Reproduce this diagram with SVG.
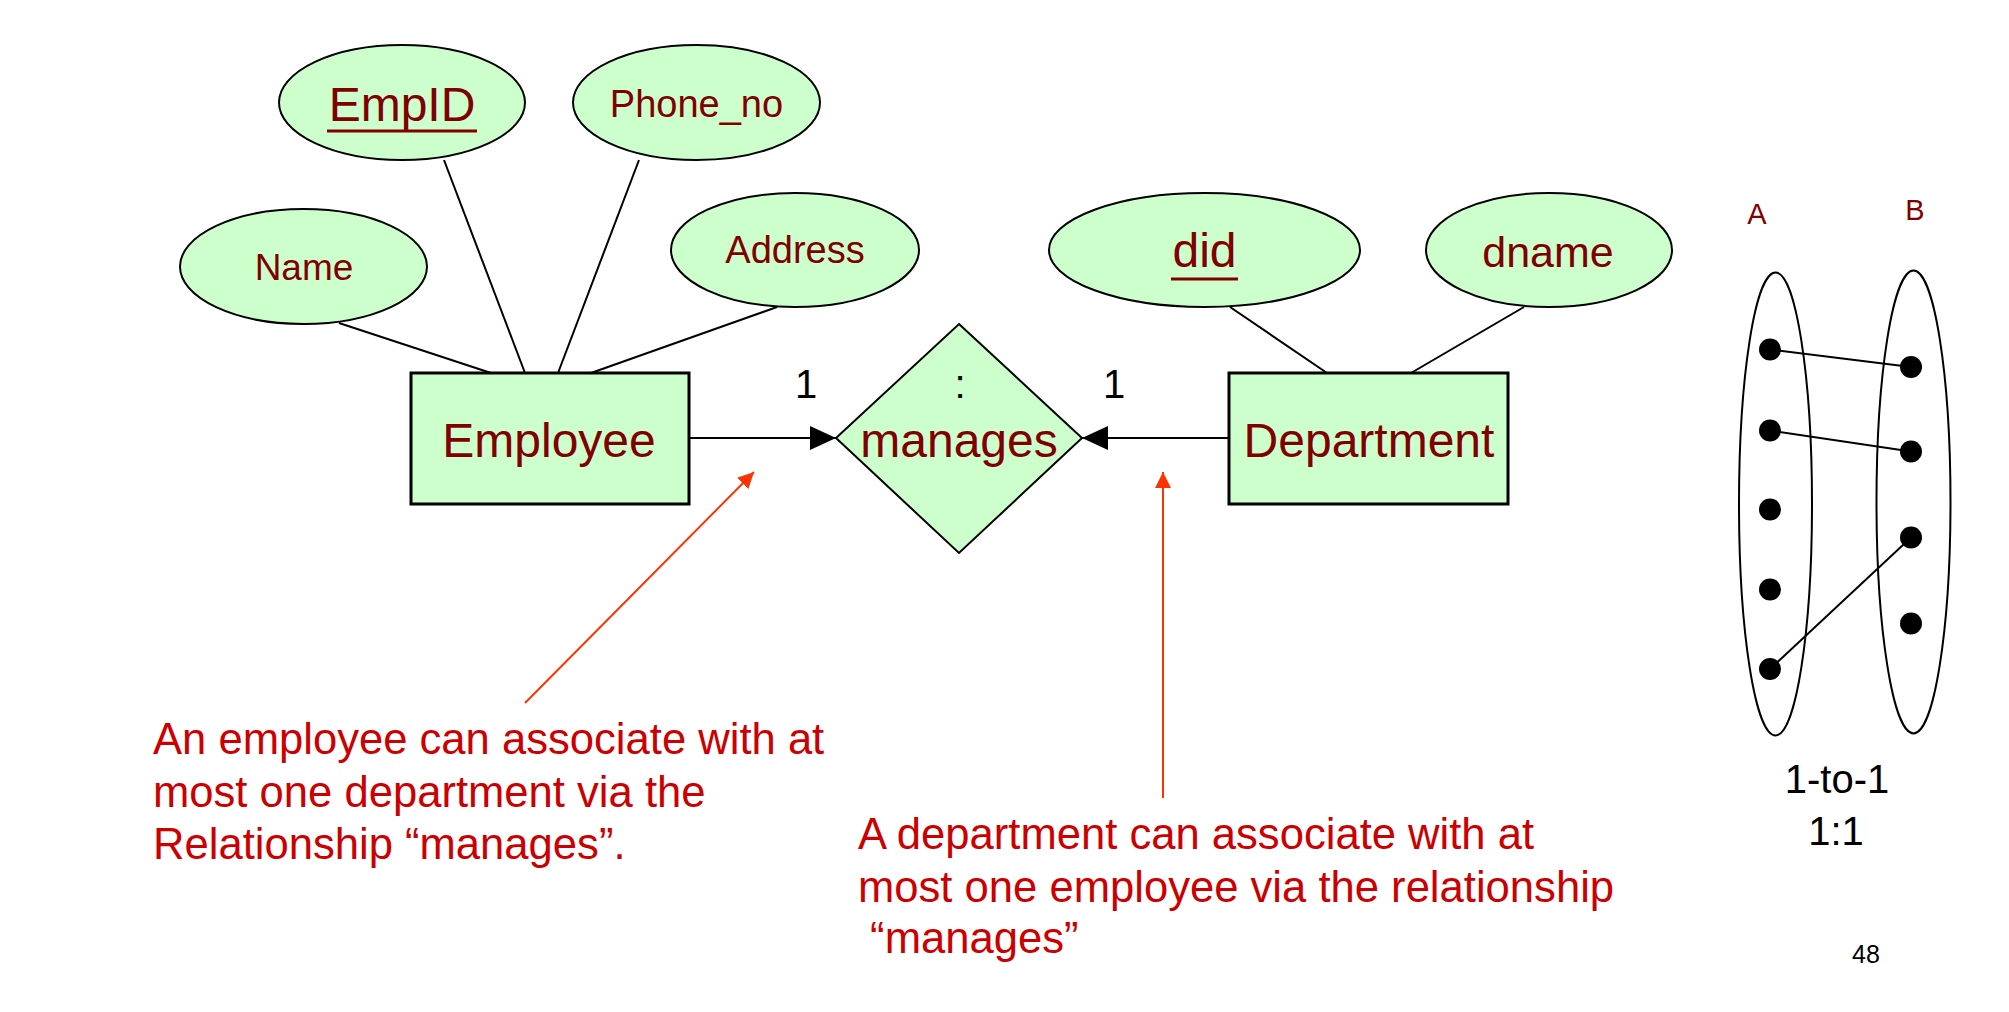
<svg xmlns="http://www.w3.org/2000/svg" width="2009" height="1012" viewBox="0 0 2009 1012">
<defs>
<style>
.attr{fill:#CCFFCC;stroke:#000;stroke-width:2}
.ent{fill:#CCFFCC;stroke:#000;stroke-width:3}
.lbl{font-family:"Liberation Sans",Arial,sans-serif;fill:#800000;text-anchor:middle}
.blk{font-family:"Liberation Sans",Arial,sans-serif;fill:#000;text-anchor:middle}
.note{font-family:"Liberation Sans",Arial,sans-serif;fill:#CC0000;font-size:43.6px}
.ln{stroke:#000;stroke-width:2;fill:none}
.red{stroke:#FF3300;stroke-width:2;fill:none}
</style>
<marker id="ah" markerUnits="userSpaceOnUse" markerWidth="28" markerHeight="26" refX="26" refY="12" orient="auto">
<path d="M0,0 L26,12 L0,24 Z" fill="#000"/>
</marker>
<marker id="rh" markerUnits="userSpaceOnUse" markerWidth="18" markerHeight="18" refX="16" refY="8" orient="auto">
<path d="M0,0 L16,8 L0,16 Z" fill="#FF3300"/>
</marker>
</defs>
<rect width="2009" height="1012" fill="#fff"/>

<g id="connectors">
<line class="ln" x1="339" y1="323" x2="491" y2="373"/>
<line class="ln" x1="444" y1="160" x2="525" y2="373"/>
<line class="ln" x1="639" y1="160" x2="558" y2="373"/>
<line class="ln" x1="777" y1="307" x2="591" y2="373"/>
<line class="ln" x1="1230" y1="307" x2="1327" y2="373"/>
<line class="ln" x1="1524" y1="307" x2="1411" y2="373"/>
<line class="ln" x1="689" y1="438" x2="836" y2="438" marker-end="url(#ah)"/>
<line class="ln" x1="1229" y1="438" x2="1082" y2="438" marker-end="url(#ah)"/>
<line class="red" x1="525" y1="703" x2="754" y2="472" marker-end="url(#rh)"/>
<line class="red" x1="1163" y1="798" x2="1163" y2="472" marker-end="url(#rh)"/>
</g>

<g id="empid">
<ellipse class="attr" cx="402" cy="102.5" rx="123" ry="57.5"/>
<text class="lbl" x="402" y="121" font-size="48">EmpID</text>
<line x1="327" y1="131" x2="477" y2="131" stroke="#800000" stroke-width="3"/>
</g>
<g id="phone_no">
<ellipse class="attr" cx="696.5" cy="102.5" rx="123.5" ry="57.5"/>
<text class="lbl" x="696.5" y="117" font-size="38">Phone_no</text>
</g>
<g id="name">
<ellipse class="attr" cx="303.5" cy="266.5" rx="123.5" ry="57.5"/>
<text class="lbl" x="304" y="280" font-size="37">Name</text>
</g>
<g id="address">
<ellipse class="attr" cx="795" cy="250" rx="124" ry="57"/>
<text class="lbl" x="795" y="263" font-size="38">Address</text>
</g>
<g id="did">
<ellipse class="attr" cx="1204.5" cy="250" rx="155.5" ry="57"/>
<text class="lbl" x="1204.5" y="267" font-size="48">did</text>
<line x1="1171" y1="279" x2="1238" y2="279" stroke="#800000" stroke-width="3"/>
</g>
<g id="dname">
<ellipse class="attr" cx="1549" cy="250" rx="123" ry="57"/>
<text class="lbl" x="1548" y="267" font-size="43">dname</text>
</g>

<g id="employee">
<rect class="ent" x="411" y="373" width="278" height="131"/>
<text class="lbl" x="549" y="457" font-size="48">Employee</text>
</g>
<g id="department">
<rect class="ent" x="1229" y="373" width="279" height="131"/>
<text class="lbl" x="1369" y="457" font-size="48">Department</text>
</g>
<g id="manages">
<polygon class="attr" points="959,324 1082,438 959,553 836,438"/>
<text class="blk" x="960" y="398" font-size="40">:</text>
<text class="lbl" x="959" y="457" font-size="48">manages</text>
</g>

<g id="cardinalities">
<text class="blk" x="806" y="398" font-size="40">1</text>
<text class="blk" x="1114" y="398" font-size="40">1</text>
</g>

<g id="note1">
<text class="note" x="153" y="754">An employee can associate with at</text>
<text class="note" x="153" y="806.5">most one department via the</text>
<text class="note" x="153" y="859">Relationship “manages”.</text>
</g>
<g id="note2">
<text class="note" x="858" y="849">A department can associate with at</text>
<text class="note" x="858" y="901.5">most one employee via the relationship</text>
<text class="note" x="858" y="953" xml:space="preserve"> “manages”</text>
</g>

<g id="mapping">
<text class="lbl" x="1757" y="224" font-size="29">A</text>
<text class="lbl" x="1915" y="220" font-size="29">B</text>
<ellipse cx="1775.5" cy="504" rx="36.5" ry="231.5" class="ln"/>
<ellipse cx="1913.5" cy="502" rx="37" ry="231.5" class="ln"/>
<line class="ln" x1="1770" y1="349.5" x2="1911" y2="367"/>
<line class="ln" x1="1770" y1="430.5" x2="1911" y2="451.5"/>
<line class="ln" x1="1770" y1="669" x2="1911" y2="537.5"/>
<g fill="#000">
<circle cx="1770" cy="349.5" r="11"/>
<circle cx="1770" cy="430.5" r="11"/>
<circle cx="1770" cy="509.5" r="11"/>
<circle cx="1770" cy="589.5" r="11"/>
<circle cx="1770" cy="669" r="11"/>
<circle cx="1911" cy="367" r="11"/>
<circle cx="1911" cy="451.5" r="11"/>
<circle cx="1911" cy="537.5" r="11"/>
<circle cx="1911" cy="623.5" r="11"/>
</g>
<text class="blk" x="1837" y="793" font-size="40">1-to-1</text>
<text class="blk" x="1836" y="845" font-size="40">1:1</text>
</g>
<text class="blk" x="1866" y="963" font-size="25">48</text>
</svg>
